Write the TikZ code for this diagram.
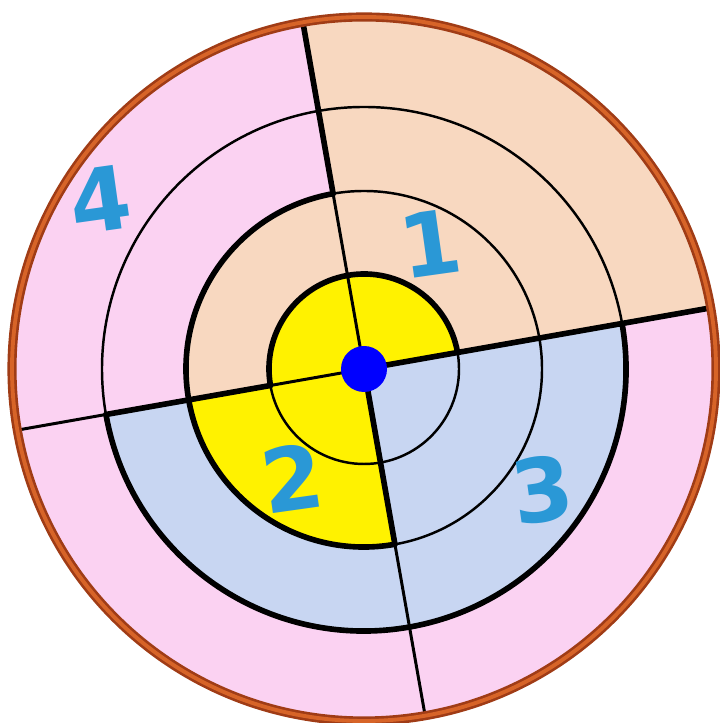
\documentclass[tikz,border=0pt]{standalone}
\usepackage{fontspec}
\newfontfamily\digitfont{DejaVu Sans}
\usepackage{tikz}
\definecolor{peach}{RGB}{248,216,192}
\definecolor{rosy}{RGB}{251,210,242}
\definecolor{paleblue}{RGB}{200,214,242}
\definecolor{digitblue}{RGB}{42,152,214}
\definecolor{rimbrown}{RGB}{160,60,22}
\definecolor{rimorange}{RGB}{215,100,40}
\newcommand{\wedgefill}[4]{\fill[#1] (0,0) -- (#2:#4) arc[start angle=#2,end angle=#3,radius=#4] -- cycle;}

\begin{document}
\begin{tikzpicture}[
		thinline/.style={black,line width=0.7pt},
		thickline/.style={black,line width=1.6pt,line cap=round},
		num/.style={text=digitblue,font=\digitfont\bfseries\fontsize{25}{25}\selectfont,rotate=8,inner sep=0pt}]
		\useasboundingbox (-3.64,-3.54) rectangle (3.55,3.69);
		\def\ra{0.95}
		\def\rb{1.78}
		\def\rc{2.62}
		\def\rd{3.52}
		
		% quadrant 1 (top right)
		\wedgefill{peach}{10}{100}{\rd}
		\wedgefill{yellow}{10}{100}{\ra}
		% quadrant 4 (top left)
		\wedgefill{rosy}{100}{190}{\rd}
		\wedgefill{peach}{100}{190}{\rb}
		\wedgefill{yellow}{100}{190}{\ra}
		% quadrant 2 (bottom left)
		\wedgefill{rosy}{190}{280}{\rd}
		\wedgefill{paleblue}{190}{280}{\rc}
		\wedgefill{yellow}{190}{280}{\rb}
		% quadrant 3 (bottom right)
		\wedgefill{rosy}{280}{370}{\rd}
		\wedgefill{paleblue}{280}{370}{\rc}
		
		% rings
		\foreach \r in {\ra,\rb,\rc}
			\draw[thinline] (0,0) circle (\r);
		\draw[thickline] (10:\ra) arc[start angle=10,end angle=190,radius=\ra];
		\draw[thickline] (100:\rb) arc[start angle=100,end angle=280,radius=\rb];
		\draw[thickline] (190:\rc) arc[start angle=190,end angle=370,radius=\rc];
		
		% dividing lines
		\draw[thinline,line width=0.85pt] (100:\rd) -- (280:\rd);
		\draw[thinline,line width=0.85pt] (190:\rd) -- (10:\rd);
		\draw[thickline] (0,0) -- (10:\rd);
		\draw[thickline] (100:\rb) -- (100:\rd);
		\draw[thickline] (190:\ra) -- (190:\rc);
		\draw[thickline] (0,0) -- (280:\rb);
		
		% rim
		\draw[rimbrown,line width=2.6pt] (0,0) circle (\rd);
		\draw[rimorange,line width=1.1pt] (0,0) circle (\rd);
		
		% centre
		\fill[blue] (0,0) circle (0.23);
		
		% numbers
		\node[num] (n1) at (0.66,1.25) {1};
		\node[num] (n2) at (-0.72,-1.09) {2};
		\node[num] (n3) at (1.78,-1.21) {3};
		\node[num] (n4) at (-2.64,1.69) {4};
	\end{tikzpicture}
\end{document}
